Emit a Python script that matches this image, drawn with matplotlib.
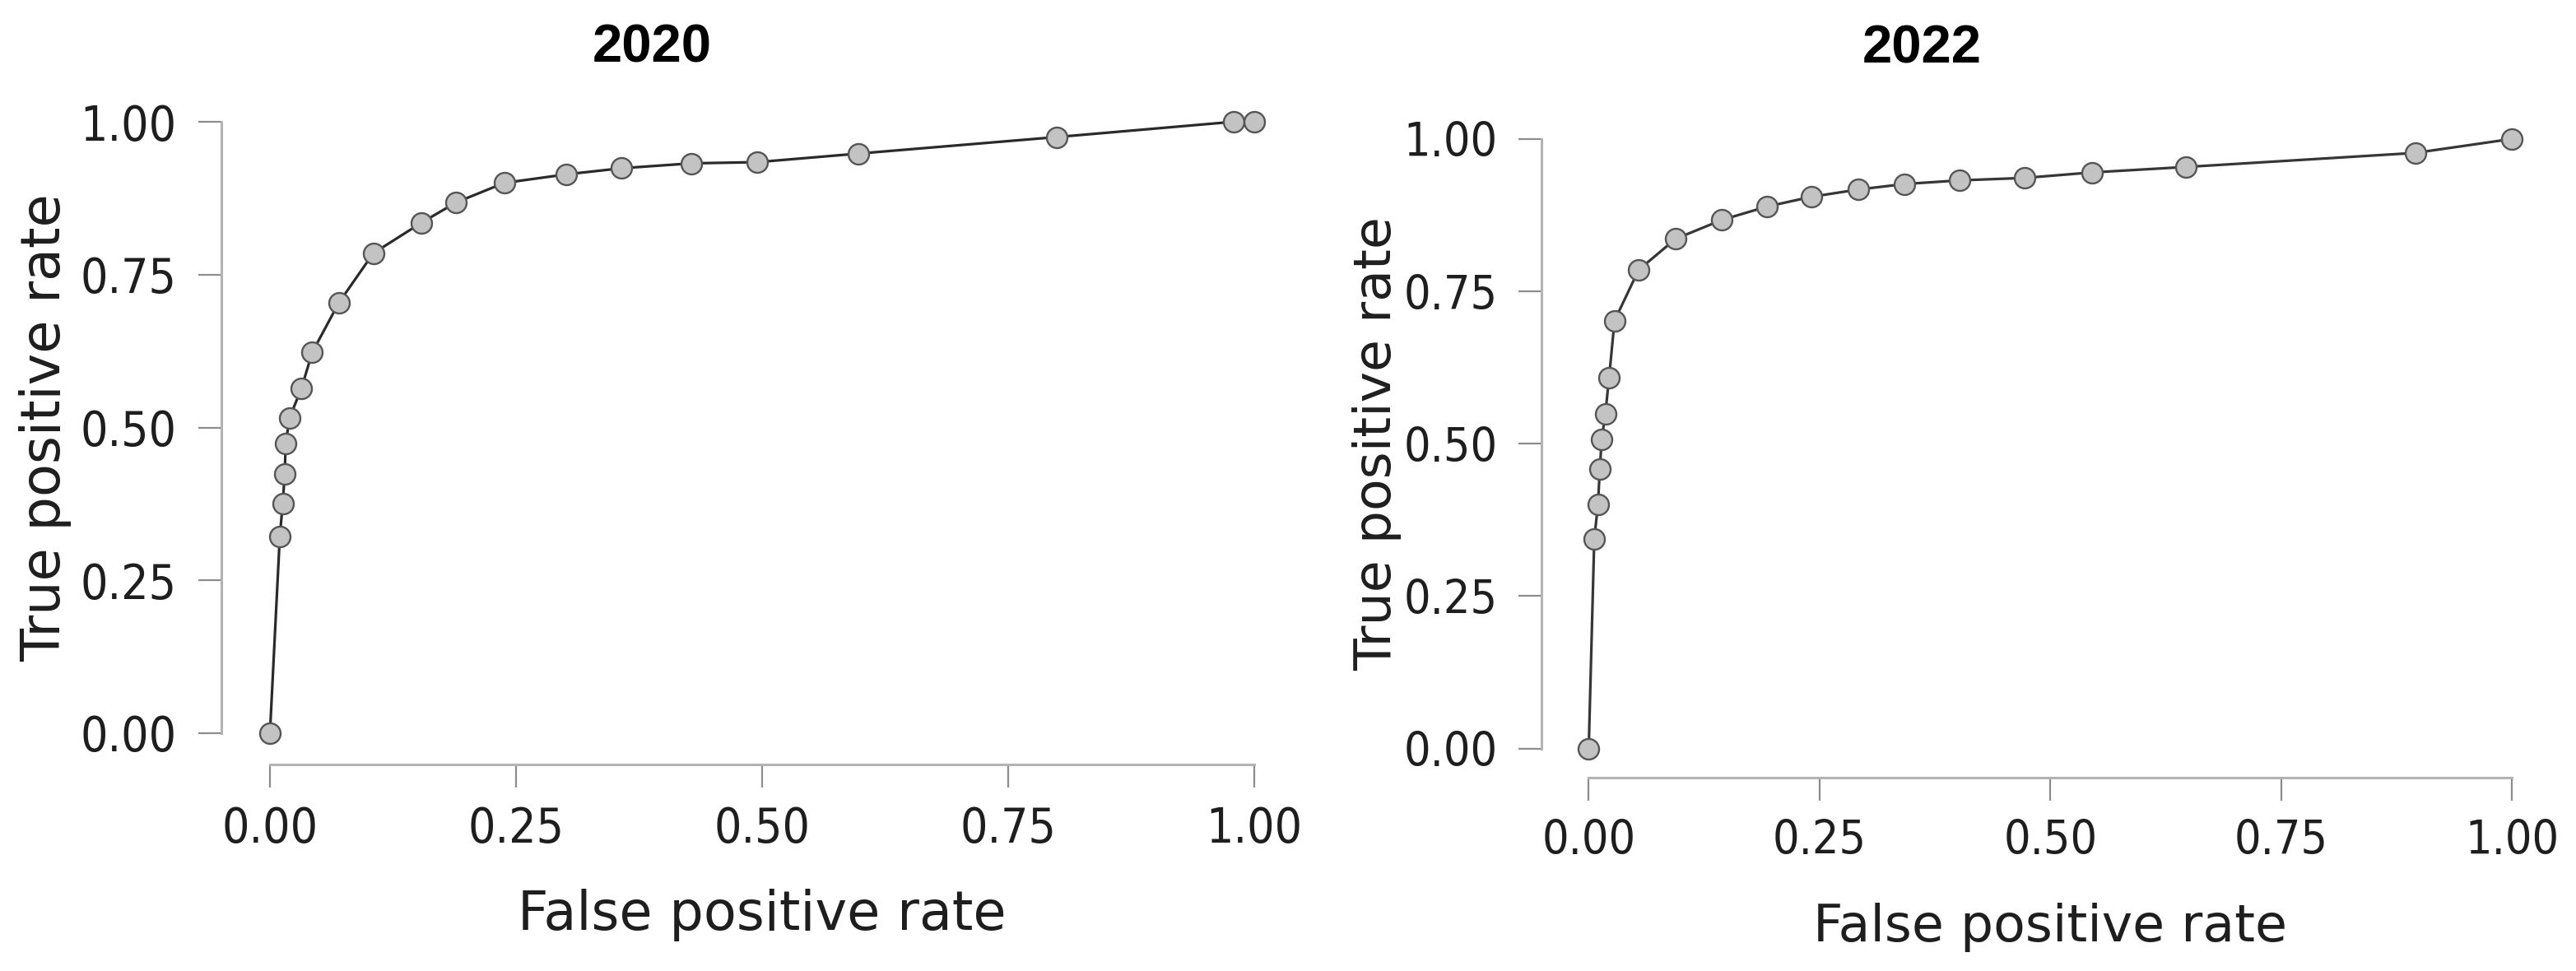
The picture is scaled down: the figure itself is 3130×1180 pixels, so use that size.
import matplotlib
matplotlib.use("Agg")
import matplotlib.pyplot as plt

# ---- data ----
fpr_2020 = [0.000, 0.010, 0.013, 0.015, 0.016, 0.020, 0.032, 0.043, 0.070, 0.105,
            0.154, 0.189, 0.238, 0.301, 0.357, 0.428, 0.495, 0.598, 0.799, 0.979, 1.000]
tpr_2020 = [0.000, 0.321, 0.376, 0.424, 0.474, 0.516, 0.564, 0.623, 0.704, 0.785,
            0.835, 0.868, 0.900, 0.914, 0.924, 0.932, 0.934, 0.948, 0.975, 1.000, 1.000]

fpr_2022 = [0.000, 0.006, 0.010, 0.012, 0.014, 0.018, 0.022, 0.028, 0.054, 0.094,
            0.144, 0.193, 0.241, 0.292, 0.342, 0.402, 0.472, 0.545, 0.647, 0.895, 1.000]
tpr_2022 = [0.000, 0.344, 0.400, 0.458, 0.507, 0.549, 0.608, 0.702, 0.785, 0.836,
            0.867, 0.889, 0.905, 0.917, 0.926, 0.932, 0.936, 0.945, 0.954, 0.977, 1.000]

titles = ["2020", "2022"]
tick_values = [0.00, 0.25, 0.50, 0.75, 1.00]
tick_labels = ["0.00", "0.25", "0.50", "0.75", "1.00"]
x_label = "False positive rate"
y_label = "True positive rate"

W, H = 3130, 1180
fig = plt.figure(figsize=(W / 100, H / 100), dpi=100)

panels = [
    dict(box=(328, 289, 1196, 743), off_l=42.8, off_b=27.4, tx=0.388, ty=1.097,
         ylab_x=87, xlab_top=1080, lsize=47, tsize=42,
         fpr=fpr_2020, tpr=tpr_2020, title=titles[0], lc="#2a2a2a"),
    dict(box=(1930.4, 270.3, 1122, 740.9), off_l=41.0, off_b=25.4, tx=0.3606, ty=1.125,
         ylab_x=1703, xlab_top=1097, lsize=45.5, tsize=41,
         fpr=fpr_2022, tpr=tpr_2022, title=titles[1], lc="#363636"),
]

spine_col = "#b3b3b3"
tick_col = "#8c8c8c"

for p in panels:
    l, b, w, h = p["box"]
    ax = fig.add_axes([l / W, b / H, w / W, h / H])
    ax.plot(p["fpr"], p["tpr"], color=p["lc"], lw=2.3, marker="o", markersize=18,
            markerfacecolor="#c3c3c3", markeredgecolor="#555555", markeredgewidth=1.7,
            clip_on=False, zorder=3)
    ax.set_xlim(0, 1)
    ax.set_ylim(0, 1)
    for s in ["top", "right"]:
        ax.spines[s].set_visible(False)
    ax.spines["left"].set_position(("outward", p["off_l"]))
    ax.spines["bottom"].set_position(("outward", p["off_b"]))
    for s in ["left", "bottom"]:
        ax.spines[s].set_color(spine_col)
        ax.spines[s].set_linewidth(2.2)
        ax.spines[s].set_bounds(0, 1)
    ax.set_xticks(tick_values)
    ax.set_xticklabels(tick_labels, fontstretch="condensed")
    ax.set_yticks(tick_values)
    ax.set_yticklabels(tick_labels, fontstretch="condensed")
    ax.tick_params(axis="both", length=20, width=1.6, color=tick_col,
                   labelsize=p["tsize"], labelcolor="#1e1e1e")
    ax.tick_params(axis="y", pad=19)
    ax.tick_params(axis="x", pad=16)
    ax.set_xlabel(x_label, fontsize=p["lsize"], color="#1e1e1e")
    ax.set_ylabel(y_label, fontsize=p["lsize"], color="#1e1e1e")
    ax.yaxis.set_label_coords(p["ylab_x"] / W, (b + h / 2) / H, transform=fig.transFigure)
    ax.xaxis.set_label_coords((l + w / 2) / W, (H - p["xlab_top"]) / H, transform=fig.transFigure)
    ax.set_title(p["title"], x=p["tx"], y=p["ty"], pad=0, fontsize=47,
                 fontweight="bold", family="Liberation Sans", color="black")
    ax.patch.set_visible(False)

fig.savefig("out.png", dpi=100, facecolor="white")
